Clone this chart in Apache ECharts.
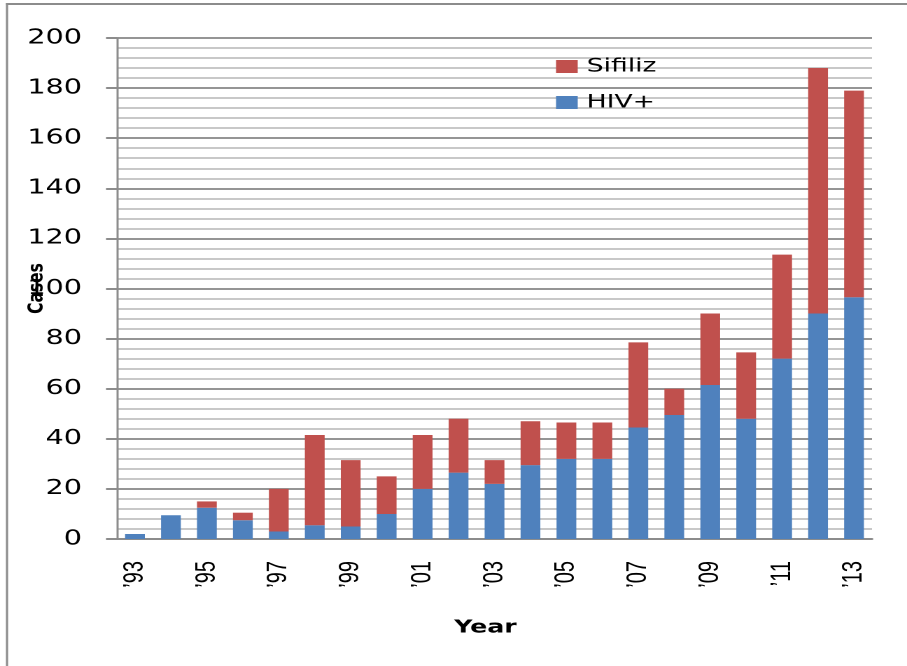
<!DOCTYPE html>
<html>
<head>
<meta charset="utf-8">
<script src="https://cdn.jsdelivr.net/npm/echarts@6/dist/echarts.min.js"></script>
<style>
html,body{margin:0;padding:0;background:#fff;width:907px;height:666px;overflow:hidden}
#wrap{width:907px;height:666px;overflow:hidden;position:relative}
#chart{width:648px;height:666px;transform:scaleX(1.3996914);transform-origin:0 0;position:absolute;left:0;top:0}
</style>
</head>
<body>
<div id="wrap"><div id="chart"></div></div>
<script>
// Data
const years = ['’93','’94','’95','’96','’97','’98','’99','’00','’01','’02','’03','’04','’05','’06','’07','’08','’09','’10','’11','’12','’13'];
const hiv = [2, 9.5, 12.5, 7.5, 3, 5.5, 5, 10, 20, 26.5, 22, 29.5, 32, 32, 44.5, 49.5, 61.5, 48, 72, 90, 96.5];
const sifiliz = [0, 0, 2.5, 3, 17, 36, 26.5, 15, 21.5, 21.5, 9.5, 17.5, 14.5, 14.5, 34, 10.5, 28.5, 26.5, 41.5, 98, 82.5];
const seriesNames = ['HIV+', 'Sifiliz'];
const legendOrder = ['Sifiliz', 'HIV+'];

// horizontal scale of the page (chart drawn narrower, then stretched like the reference)
const S = 907 / 648;
const px = v => v / S;

const chart = echarts.init(document.getElementById('chart'), null, {devicePixelRatio: 2});
chart.setOption({
  animation: false,
  backgroundColor: '#ffffff',
  grid: {left: px(117), right: px(35), top: 38, bottom: 127, containLabel: false, outerBoundsMode: 'none'},
  legend: {
    orient: 'vertical', left: px(556), top: 57, padding: 0,
    itemWidth: px(21.7), itemHeight: 13, itemGap: 17,
    data: legendOrder,
    icon: 'rect',
    textStyle: {fontFamily: 'DejaVu Sans', fontSize: 19, color: '#000', padding: [0, 0, 0, 1.4]}
  },
  xAxis: {
    type: 'category', data: years,
    axisLine: {lineStyle: {color: '#8c8c8c', width: 2}},
    axisTick: {show: false},
    axisLabel: {interval: 1, rotate: 90, margin: 22, fontFamily: 'Liberation Sans', fontSize: 20, color: '#000'},
    name: 'Year', nameLocation: 'middle', nameGap: 80, nameMoveOverlap: false,
    nameTextStyle: {fontFamily: 'DejaVu Sans', fontWeight: 'bold', fontSize: 18, color: '#000', padding: [0, 13, 0, 0]}
  },
  yAxis: {
    type: 'value', min: 0, max: 200, interval: 20,
    axisLine: {show: true, lineStyle: {color: '#8c8c8c', width: 1.5}},
    axisTick: {show: true, length: px(11), lineStyle: {color: '#8c8c8c', width: 2}},
    axisLabel: {margin: px(35), fontFamily: 'DejaVu Sans', fontSize: 20.5, color: '#000'},
    splitLine: {show: true, lineStyle: {color: '#959595', width: 2}},
    minorTick: {show: false, splitNumber: 5},
    minorSplitLine: {show: true, lineStyle: {color: '#c8c8c8', width: 2}},
    name: 'Cases', nameLocation: 'middle', nameRotate: 90, nameGap: px(69), nameMoveOverlap: false,
    nameTextStyle: {fontFamily: 'DejaVu Sans', fontWeight: 'bold', fontSize: 15.5, color: '#000'}
  },
  series: [
    {name: seriesNames[0], type: 'bar', stack: 'total', data: hiv, barWidth: '55%',
     itemStyle: {color: '#4F81BD'}},
    {name: seriesNames[1], type: 'bar', stack: 'total', data: sifiliz, barWidth: '55%',
     itemStyle: {color: '#C0504D'}}
  ],
  graphic: [
    {type: 'line', shape: {x1: px(7), y1: 3, x2: px(7), y2: 666}, style: {stroke: '#8c8c8c', lineWidth: px(2.2)}, silent: true},
    {type: 'line', shape: {x1: px(6), y1: 4, x2: 648, y2: 4}, style: {stroke: '#8c8c8c', lineWidth: 2}, silent: true}
  ]
});
</script>
</body>
</html>
